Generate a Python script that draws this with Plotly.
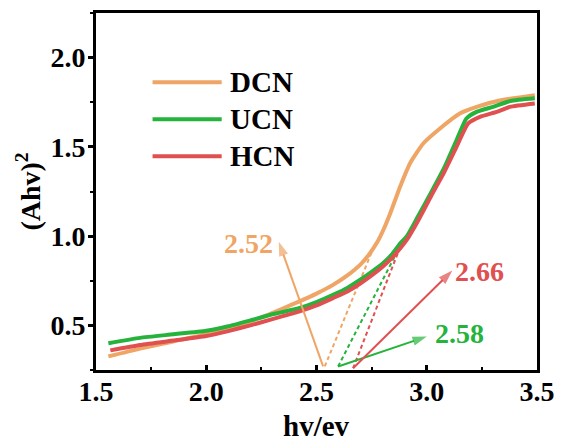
import plotly.graph_objects as go

# ---- data ----
dcn_x = [1.556, 1.70, 1.85, 2.0, 2.15, 2.27, 2.35, 2.42, 2.50, 2.575, 2.64, 2.70, 2.74, 2.775, 2.805, 2.835, 2.88, 2.925, 2.985, 3.06, 3.15, 3.23, 3.33, 3.49]
dcn_y = [0.326, 0.37, 0.41, 0.45, 0.50, 0.555, 0.596, 0.633, 0.678, 0.727, 0.78, 0.842, 0.90, 0.965, 1.04, 1.13, 1.28, 1.41, 1.52, 1.603, 1.687, 1.725, 1.76, 1.79]

ucn_x = [1.556, 1.70, 1.85, 2.0, 2.1, 2.2, 2.3, 2.42, 2.50, 2.575, 2.64, 2.70, 2.75, 2.80, 2.84, 2.88, 2.91, 2.96, 3.02, 3.08, 3.135, 3.18, 3.226, 3.30, 3.38, 3.49]
ucn_y = [0.40, 0.43, 0.45, 0.47, 0.495, 0.528, 0.562, 0.596, 0.63, 0.671, 0.71, 0.757, 0.80, 0.846, 0.895, 0.96, 1.0, 1.11, 1.245, 1.385, 1.537, 1.659, 1.696, 1.724, 1.757, 1.772]

hcn_x = [1.565, 1.70, 1.85, 2.0, 2.1, 2.2, 2.3, 2.42, 2.50, 2.575, 2.64, 2.70, 2.75, 2.80, 2.84, 2.88, 2.91, 2.96, 3.02, 3.08, 3.135, 3.188, 3.241, 3.317, 3.377, 3.49]
hcn_y = [0.36, 0.39, 0.415, 0.44, 0.468, 0.50, 0.535, 0.577, 0.612, 0.653, 0.69, 0.736, 0.78, 0.829, 0.875, 0.932, 0.98, 1.085, 1.225, 1.36, 1.50, 1.631, 1.668, 1.696, 1.724, 1.743]

series_names = ["DCN", "UCN", "HCN"]
band_gaps = [2.52, 2.58, 2.66]

# tangent (dashed) lines: [x0, x1], [y0, y1]
tan_dcn_x = [2.5375, 2.757]
tan_dcn_y = [0.27, 0.93]
tan_ucn_x = [2.598, 2.870]
tan_ucn_y = [0.27, 0.922]
tan_hcn_x = [2.666, 2.886]
tan_hcn_y = [0.26, 0.96]

# arrows: tail (x, y), head (x, y), label centre (x, y)
arrow_tail = [(2.53, 0.27), (2.598, 0.27), (2.666, 0.26)]
arrow_head = [(2.329, 0.969), (3.0, 0.437), (3.116, 0.807)]
label_pos = [(2.19, 0.96), (3.15, 0.456), (3.237, 0.804)]

x_ticks = [1.5, 2.0, 2.5, 3.0, 3.5]
y_ticks = [0.5, 1.0, 1.5, 2.0]
x_title = "hv/ev"
y_title = "(Ahv)<sup>2</sup>"

colors = ["#EFA565", "#25B33C", "#E05050"]
FONT = "Liberation Serif"

fig = go.Figure()
curves = [(dcn_x, dcn_y), (ucn_x, ucn_y), (hcn_x, hcn_y)]
tangents = [(tan_dcn_x, tan_dcn_y), (tan_ucn_x, tan_ucn_y), (tan_hcn_x, tan_hcn_y)]

for (tx, ty), c in zip(tangents, colors):
    fig.add_trace(go.Scatter(x=tx, y=ty, mode="lines", showlegend=False,
                             line=dict(color=c, width=2, dash="4px,3px"), hoverinfo="skip"))

for name, (cx, cy), c in zip(series_names, curves, colors):
    fig.add_trace(go.Scatter(x=cx, y=cy, mode="lines", name=name, showlegend=False,
                             line=dict(color=c, width=4, shape="spline", smoothing=0.5)))

# arrows (line + arrow-head marker) and labels
for (tx, ty), (hx, hy), (lx, ly), c, g in zip(arrow_tail, arrow_head, label_pos, colors, band_gaps):
    fig.add_trace(go.Scatter(x=[tx, hx], y=[ty, hy], mode="lines+markers", showlegend=False,
                             line=dict(color=c, width=2), hoverinfo="skip",
                             marker=dict(symbol="arrow", size=[0, 15], angleref="previous",
                                         color=c, line=dict(width=0))))
    fig.add_annotation(x=lx, y=ly, xref="x", yref="y", text=f"<b>{g:.2f}</b>",
                       showarrow=False, font=dict(family=FONT, size=28, color=c))

# manual legend (long line samples as in the reference)
leg_x0, leg_x1, leg_tx = 1.7565, 2.070, 2.097
leg_rows = [1.862, 1.655, 1.448]
for name, c, ry in zip(series_names, colors, leg_rows):
    fig.add_shape(type="line", x0=leg_x0, x1=leg_x1, y0=ry, y1=ry, xref="x", yref="y",
                  line=dict(color=c, width=4))
    fig.add_annotation(x=leg_tx, y=ry, xref="x", yref="y", xanchor="left", showarrow=False,
                       text=f"<b>{name}</b>", font=dict(family=FONT, size=29, color="black"))

# x-axis title as a paper annotation (placed a little lower than plotly allows for titles)
fig.add_annotation(x=0.5, y=-0.157, xref="paper", yref="paper", showarrow=False,
                   yanchor="middle", text=f"<b>{x_title}</b>",
                   font=dict(family=FONT, size=29, color="black"))

axis_common = dict(showline=True, linecolor="black", linewidth=3, mirror=True,
                   showgrid=False, zeroline=False, tickcolor="black", tickwidth=2.5,
                   tickfont=dict(family=FONT, size=28, color="black"))

fig.update_xaxes(range=[1.5, 3.5], tickvals=x_ticks, ticktext=[f"<b>{v:.1f}</b>" for v in x_ticks],
                 ticks="inside", ticklen=5, ticklabelstandoff=-6,
                 minor=dict(ticks="inside", ticklen=3, tickwidth=2, tickcolor="black", dtick=0.25),
                 **axis_common)
fig.update_yaxes(range=[0.25, 2.25], tickvals=y_ticks, ticktext=[f"<b>{v:.1f}</b>" for v in y_ticks],
                 ticks="outside", ticklen=5, ticklabelstandoff=-3,
                 minor=dict(ticks="outside", ticklen=3, tickwidth=2, tickcolor="black", dtick=0.25),
                 title=dict(text=f"<b>{y_title}</b>", font=dict(family=FONT, size=28, color="black"), standoff=2),
                 **axis_common)

# page body has an 8px default margin, so the figure is shifted by 8px; compensate
fig.update_layout(width=555, height=436, margin=dict(l=88, r=26, t=5, b=74, autoexpand=False),
                  plot_bgcolor="white", paper_bgcolor="white", showlegend=False)

fig.write_html("out.html")
